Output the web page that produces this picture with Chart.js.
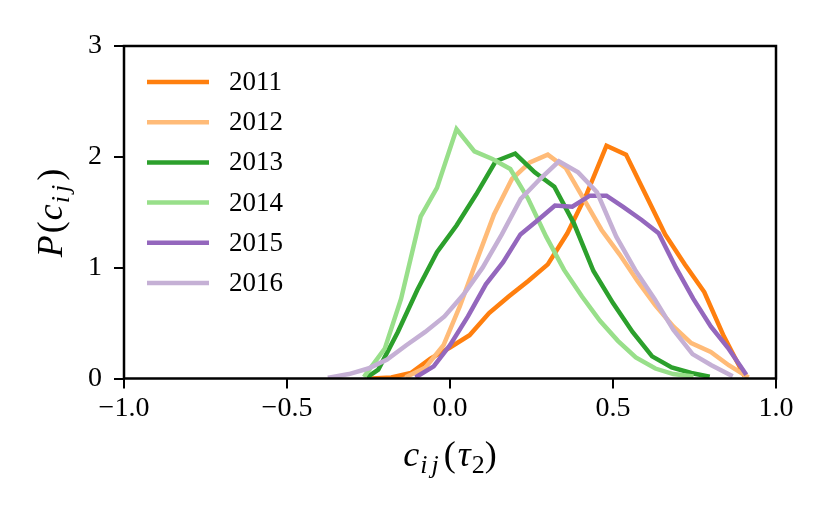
<!DOCTYPE html>
<html>
<head>
<meta charset="utf-8">
<script src="https://cdn.jsdelivr.net/npm/chart.js@4.4.1/dist/chart.umd.min.js"></script>
<style>
  html, body { margin: 0; padding: 0; background: #fff; }
</style>
</head>
<body>
<canvas id="pdfChart" width="831" height="514"></canvas>
<script>
const years  = ['2011', '2012', '2013', '2014', '2015', '2016'];
const colors = ['#ff7f0e', '#ffbb78', '#2ca02c', '#98df8a', '#9467bd', '#c5b0d5'];

// distributions, one x / y pair per year
const x2011 = [-0.24, -0.18, -0.12, -0.06, 0.0, 0.06, 0.12, 0.18, 0.24, 0.30, 0.36, 0.42, 0.48, 0.54, 0.60, 0.66, 0.72, 0.78, 0.84, 0.90];
const y2011 = [0.0, 0.01, 0.05, 0.18, 0.28, 0.39, 0.59, 0.74, 0.88, 1.03, 1.31, 1.67, 2.1, 2.02, 1.66, 1.3, 1.03, 0.78, 0.38, 0.04];

const x2012 = [-0.13, -0.075, -0.02, 0.03, 0.08, 0.135, 0.19, 0.245, 0.30, 0.355, 0.41, 0.465, 0.52, 0.575, 0.63, 0.685, 0.74, 0.80, 0.855, 0.91];
const y2012 = [0.02, 0.1, 0.3, 0.65, 1.05, 1.48, 1.8, 1.95, 2.02, 1.9, 1.62, 1.34, 1.12, 0.88, 0.66, 0.47, 0.32, 0.24, 0.12, 0.02];

const x2013 = [-0.25, -0.22, -0.16, -0.10, -0.04, 0.02, 0.08, 0.14, 0.20, 0.26, 0.32, 0.38, 0.44, 0.50, 0.56, 0.62, 0.68, 0.74, 0.79];
const y2013 = [0.02, 0.08, 0.42, 0.8, 1.14, 1.38, 1.66, 1.96, 2.03, 1.86, 1.73, 1.4, 0.97, 0.68, 0.42, 0.2, 0.1, 0.05, 0.02];

const x2014 = [-0.26, -0.2, -0.15, -0.09, -0.04, 0.02, 0.075, 0.13, 0.185, 0.24, 0.295, 0.35, 0.405, 0.46, 0.515, 0.57, 0.63, 0.685, 0.74];
const y2014 = [0.03, 0.27, 0.72, 1.46, 1.72, 2.25, 2.05, 1.98, 1.89, 1.62, 1.28, 0.98, 0.74, 0.52, 0.34, 0.19, 0.09, 0.04, 0.02];

const x2015 = [-0.10, -0.05, 0.0, 0.055, 0.11, 0.163, 0.216, 0.27, 0.322, 0.375, 0.429, 0.48, 0.53, 0.588, 0.64, 0.693, 0.746, 0.80, 0.852, 0.905];
const y2015 = [0.02, 0.11, 0.3, 0.56, 0.85, 1.05, 1.3, 1.43, 1.56, 1.55, 1.65, 1.65, 1.55, 1.43, 1.31, 1.0, 0.72, 0.47, 0.28, 0.05];

const x2016 = [-0.368, -0.31, -0.251, -0.193, -0.134, -0.076, -0.017, 0.042, 0.10, 0.159, 0.217, 0.276, 0.334, 0.393, 0.451, 0.51, 0.568, 0.627, 0.685, 0.744, 0.802, 0.861];
const y2016 = [0.01, 0.04, 0.09, 0.17, 0.3, 0.42, 0.56, 0.76, 1.0, 1.3, 1.62, 1.8, 1.96, 1.86, 1.68, 1.28, 0.98, 0.72, 0.44, 0.22, 0.12, 0.03];

const xs = [x2011, x2012, x2013, x2014, x2015, x2016];
const ys = [y2011, y2012, y2013, y2014, y2015, y2016];

const xTicks = [-1.0, -0.5, 0.0, 0.5, 1.0];
const yTicks = [0, 1, 2, 3];

const SERIF = '"Liberation Serif", "DejaVu Serif", serif';

const datasets = years.map((yr, i) => ({
  label: yr,
  data: xs[i].map((x, k) => ({ x: x, y: ys[i][k] })),
  borderColor: colors[i],
  backgroundColor: colors[i],
  borderWidth: 4.5,
  borderCapStyle: 'square',
  pointRadius: 0,
  tension: 0,
  fill: false,
  order: years.length - i   // later years on top, like the original
}));

// box round the plot area, drawn over the lines
const framePlugin = {
  id: 'frame',
  afterDraw(chart) {
    const { ctx, chartArea: a } = chart;
    ctx.save();
    ctx.strokeStyle = '#000';
    ctx.lineWidth = 2.5;
    ctx.strokeRect(a.left, a.top, a.right - a.left, a.bottom - a.top);
    ctx.restore();
  }
};

// legend inside the axes, top left
const insideLegend = {
  id: 'insideLegend',
  afterDraw(chart) {
    const { ctx, chartArea: a } = chart;
    ctx.save();
    ctx.font = '27px ' + SERIF;
    ctx.textBaseline = 'middle';
    ctx.fillStyle = '#000';
    years.forEach((yr, i) => {
      const y = a.top + 36 + i * 40.2;
      ctx.strokeStyle = colors[i];
      ctx.lineWidth = 4.5;
      ctx.beginPath();
      ctx.moveTo(a.left + 23, y);
      ctx.lineTo(a.left + 85, y);
      ctx.stroke();
      ctx.fillText(yr, a.left + 105, y + 1);
    });
    ctx.restore();
  }
};

// draw a run of text pieces (for sub-scripts) centred on cx
function drawPieces(ctx, pieces, cx, cy) {
  let total = 0;
  pieces.forEach(p => { ctx.font = p.font; p.w = ctx.measureText(p.t).width; total += p.w + (p.gap || 0); });
  let x = cx - total / 2;
  pieces.forEach(p => {
    ctx.font = p.font;
    ctx.fillText(p.t, x, cy + (p.dy || 0));
    x += p.w + (p.gap || 0);
  });
}

const axisTitles = {
  id: 'axisTitles',
  afterDraw(chart) {
    const { ctx } = chart;
    const big = '36px ' + SERIF, bigI = 'italic 36px ' + SERIF, subI = 'italic 26px ' + SERIF, sub = '26px ' + SERIF;
    ctx.save();
    ctx.fillStyle = '#000';
    ctx.textBaseline = 'alphabetic';
    drawPieces(ctx, [
      { t: 'c', font: bigI, gap: 1 },
      { t: 'i', font: subI, dy: 7, gap: 4 },
      { t: 'j', font: subI, dy: 7, gap: 5 },
      { t: '(', font: big, gap: 2 },
      { t: 'τ', font: bigI, gap: 1 },
      { t: '2', font: sub, dy: 7 },
      { t: ')', font: big }
    ], 450, 466);
    ctx.translate(62, 213);
    ctx.rotate(-Math.PI / 2);
    drawPieces(ctx, [
      { t: 'P', font: bigI, gap: 2 },
      { t: '(', font: big, gap: 1 },
      { t: 'c', font: bigI, gap: 1 },
      { t: 'i', font: subI, dy: 7, gap: 4 },
      { t: 'j', font: subI, dy: 7, gap: 4 },
      { t: ')', font: big }
    ], 0, 0);
    ctx.restore();
  }
};

const fmtX = v => (v < 0 ? '\u2212' : '') + Math.abs(v).toFixed(1);

new Chart(document.getElementById('pdfChart').getContext('2d'), {
  type: 'line',
  data: { datasets: datasets },
  options: {
    responsive: false,
    animation: false,
    layout: { padding: { top: 46, right: 55, left: 0, bottom: 0 } },
    plugins: { legend: { display: false }, tooltip: { enabled: false } },
    scales: {
      x: {
        type: 'linear',
        min: -1, max: 1,
        afterBuildTicks: s => { s.ticks = xTicks.map(v => ({ value: v })); },
        afterFit: s => { s.height = 135.5; },
        ticks: { callback: fmtX, color: '#000', font: { family: SERIF, size: 28 }, padding: 3, maxRotation: 0 },
        grid: { drawOnChartArea: false, drawTicks: true, tickLength: 10, color: '#000', lineWidth: 2 },
        border: { display: false }
      },
      y: {
        type: 'linear',
        min: 0, max: 3,
        afterBuildTicks: s => { s.ticks = yTicks.map(v => ({ value: v })); },
        afterFit: s => { s.width = 124; },
        ticks: { color: '#000', font: { family: SERIF, size: 28 }, padding: 12 },
        grid: { drawOnChartArea: false, drawTicks: true, tickLength: 10, color: '#000', lineWidth: 2 },
        border: { display: false }
      }
    }
  },
  plugins: [framePlugin, insideLegend, axisTitles]
});
</script>
</body>
</html>
